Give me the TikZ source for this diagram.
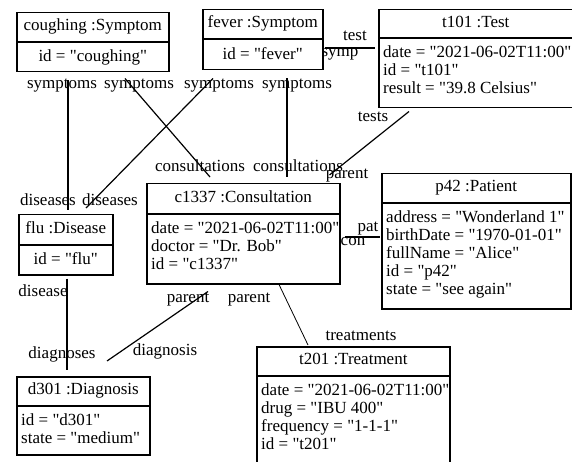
\documentclass[tikz,border=0pt]{standalone}
\usepackage{fontspec}
\setmainfont[Ligatures=TeXOff]{Liberation Serif}

\begin{document}
\begin{tikzpicture}[x=1pt, y=-1pt,
    font=\fontsize{17}{18}\selectfont,
    obj/.style={draw, line width=1.5pt, anchor=north west, inner sep=0pt},
    head/.style={inner sep=0pt, text height=12.6pt, text depth=5.4pt},
    attrs/.style={inner sep=0pt, align=left, anchor=north west},
    sep/.style={line width=1.5pt},
    assoc/.style={line width=1.2pt},
    role/.style={inner sep=0pt, text height=12.6pt, text depth=5.4pt}
]
\useasboundingbox (0,0) rectangle (572,462);
\clip (0,0) rectangle (572,462);

% --- objects ---
\node[obj, minimum width=152pt, minimum height=59pt] (cough) at (16,12) {};
\node[head] at ([yshift=-15pt]cough.north) {coughing :Symptom};
\draw[sep] ([yshift=-30pt]cough.north west) -- ([yshift=-30pt]cough.north east);
\node[head] at ([yshift=14.5pt]cough.south) {id = "coughing"};

\node[obj, minimum width=120pt, minimum height=60pt] (fever) at (202,9) {};
\node[head] at ([yshift=-15pt]fever.north) {fever :Symptom};
\draw[sep] ([yshift=-30pt]fever.north west) -- ([yshift=-30pt]fever.north east);
\node[head] at ([yshift=15pt]fever.south) {id = "fever"};

\node[obj, minimum width=210pt, minimum height=98pt] (t101) at (378,9) {};
\node[head] at ([xshift=-8pt,yshift=-14.5pt]t101.north) {t101 :Test};
\draw[sep] ([yshift=-29pt]t101.north west) -- ([yshift=-29pt]t101.north east);
\node[attrs] at ([xshift=5pt,yshift=-35.4pt]t101.north west)
    {\strut date = "2021-06-02T11:00"\\ id = "t101"\\ result = "39.8 Celsius"};

\node[obj, minimum width=94pt, minimum height=60pt] (flu) at (18,214) {};
\node[head] at ([yshift=-15.5pt]flu.north) {flu :Disease};
\draw[sep] ([yshift=-31pt]flu.north west) -- ([yshift=-31pt]flu.north east);
\node[head] at ([yshift=14.5pt]flu.south) {id = "flu"};

\node[obj, minimum width=193pt, minimum height=100pt] (c1337) at (146,183) {};
\node[head] at ([yshift=-15.5pt]c1337.north) {c1337 :Consultation};
\draw[sep] ([yshift=-31pt]c1337.north west) -- ([yshift=-31pt]c1337.north east);
\node[attrs] at ([xshift=5pt,yshift=-37.4pt]c1337.north west)
    {\strut date = "2021-06-02T11:00"\\ doctor = "Dr. Bob"\\ id = "c1337"};

\node[obj, minimum width=189pt, minimum height=135pt] (p42) at (381,173) {};
\node[head] at ([yshift=-15pt]p42.north) {p42 :Patient};
\draw[sep] ([yshift=-30pt]p42.north west) -- ([yshift=-30pt]p42.north east);
\node[attrs] at ([xshift=5pt,yshift=-36.4pt]p42.north west)
    {\strut address = "Wonderland 1"\\ birthDate = "1970-01-01"\\ fullName = "Alice"\\ id = "p42"\\ state = "see again"};

\node[obj, minimum width=133pt, minimum height=78pt] (d301) at (16,376) {};
\node[head] at ([yshift=-15pt]d301.north) {d301 :Diagnosis};
\draw[sep] ([yshift=-30pt]d301.north west) -- ([yshift=-30pt]d301.north east);
\node[attrs] at ([xshift=5pt,yshift=-36.4pt]d301.north west)
    {\strut id = "d301"\\ state = "medium"};

\node[obj, minimum width=193pt, minimum height=125pt] (t201) at (256,346) {};
\node[head] at ([yshift=-15pt]t201.north) {t201 :Treatment};
\draw[sep] ([yshift=-30pt]t201.north west) -- ([yshift=-30pt]t201.north east);
\node[attrs] at ([xshift=5pt,yshift=-36.4pt]t201.north west)
    {\strut date = "2021-06-02T11:00"\\ drug = "IBU 400"\\ frequency = "1-1-1"\\ id = "t201"};

% --- links ---
\draw[assoc] ([xshift=52pt,yshift=-8pt]cough.south west) -- ([xshift=50pt,yshift=4pt]flu.north west)
    node[role] at (62,85) {symptoms} node[role] at (48,202) {diseases};
\draw[assoc] ([xshift=109pt,yshift=-6pt]cough.south west) -- ([xshift=64pt,yshift=6pt]c1337.north west)
    node[role] at (139,85) {symptoms} node[role] at (200,168) {consultations};
\draw[assoc] ([xshift=11pt,yshift=-8pt]fever.south west) -- ([xshift=68pt,yshift=6pt]flu.north west)
    node[role] at (219,85) {symptoms} node[role] at (110,202) {diseases};
\draw[assoc] ([xshift=85pt,yshift=-8pt]fever.south west) -- ([xshift=141pt,yshift=6pt]c1337.north west)
    node[role] at (297,85) {symptoms} node[role] at (298,168) {consultations};
\draw[assoc] ([xshift=1pt,yshift=-39pt]fever.north east) -- ([xshift=-3pt,yshift=-39pt]t101.north west)
    node[role] at (355,37) {test} node[role] at (340,53) {symp};
\draw[assoc] ([xshift=31pt,yshift=-3pt]t101.south west) -- ([xshift=-11pt,yshift=8pt]c1337.north east)
    node[role] at (373,118) {tests} node[role] at (347,175) {parent};
\draw[assoc] ([xshift=4pt,yshift=-54pt]c1337.north east) -- ([xshift=-1pt,yshift=-64pt]p42.north west)
    node[role] at (368,228) {pat} node[role] at (353,242) {con};
\draw[assoc] ([xshift=49pt,yshift=-3pt]flu.south west) -- ([xshift=51pt,yshift=6pt]d301.north west)
    node[role] at (43,293) {disease} node[role] at (62,355) {diagnoses};
\draw[assoc] ([xshift=62pt,yshift=-7pt]c1337.south west) -- ([xshift=91pt,yshift=15pt]d301.north west)
    node[role] at (188,299) {parent} node[role] at (165,352) {diagnosis};
\draw[assoc, line width=0.8pt] ([xshift=133pt]c1337.south west) -- ([xshift=52pt,yshift=1pt]t201.north west)
    node[role] at (249,299) {parent} node[role] at (361,337) {treatments};
\end{tikzpicture}
\end{document}
